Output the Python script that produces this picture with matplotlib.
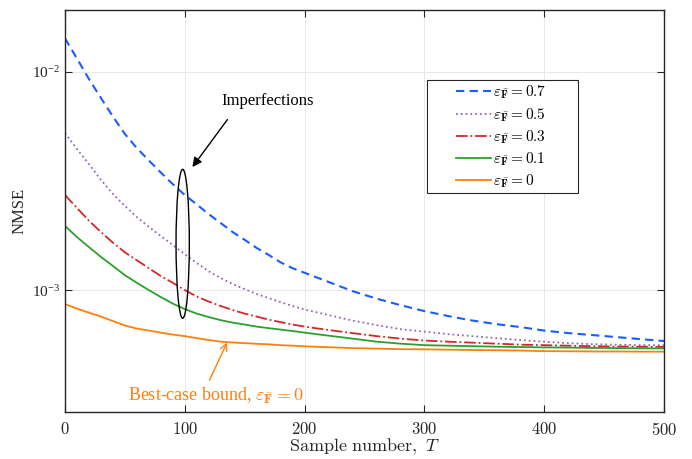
import matplotlib
matplotlib.use("Agg")
import matplotlib.pyplot as plt
import matplotlib.patches as pat
from matplotlib.ticker import NullLocator, FixedLocator, FixedFormatter
import numpy as np

plt.rcParams['font.family'] = ['Liberation Serif', 'DejaVu Serif']
plt.rcParams['mathtext.fontset'] = 'cm'

# sample numbers at which the curves were read
T = list(range(0, 201, 10)) + list(range(220, 501, 20))

nmse_07 = [1.428e-2, 1.153e-2, 9.29e-3, 7.60e-3, 6.25e-3, 5.20e-3, 4.48e-3, 3.93e-3, 3.46e-3,
           3.06e-3, 2.73e-3, 2.47e-3, 2.23e-3, 2.03e-3, 1.845e-3, 1.70e-3, 1.56e-3, 1.45e-3,
           1.34e-3, 1.26e-3, 1.20e-3,
           1.09e-3, 9.89e-4, 9.14e-4, 8.53e-4, 8.01e-4, 7.60e-4, 7.25e-4, 6.98e-4, 6.77e-4,
           6.52e-4, 6.35e-4, 6.22e-4, 6.09e-4, 5.96e-4, 5.84e-4]
nmse_05 = [5.25e-3, 4.44e-3, 3.78e-3, 3.20e-3, 2.76e-3, 2.43e-3, 2.16e-3, 1.95e-3, 1.77e-3,
           1.61e-3, 1.46e-3, 1.33e-3, 1.22e-3, 1.135e-3, 1.065e-3, 1.01e-3, 9.59e-4, 9.19e-4,
           8.81e-4, 8.45e-4, 8.14e-4,
           7.68e-4, 7.25e-4, 6.91e-4, 6.62e-4, 6.45e-4, 6.28e-4, 6.15e-4, 6.02e-4, 5.90e-4,
           5.80e-4, 5.71e-4, 5.65e-4, 5.62e-4, 5.59e-4, 5.59e-4]
nmse_03 = [2.73e-3, 2.38e-3, 2.08e-3, 1.845e-3, 1.65e-3, 1.49e-3, 1.37e-3, 1.26e-3, 1.16e-3,
           1.08e-3, 1.00e-3, 9.34e-4, 8.86e-4, 8.45e-4, 8.10e-4, 7.80e-4, 7.56e-4, 7.32e-4,
           7.13e-4, 6.95e-4, 6.80e-4,
           6.56e-4, 6.35e-4, 6.15e-4, 5.99e-4, 5.87e-4, 5.80e-4, 5.74e-4, 5.68e-4, 5.62e-4,
           5.59e-4, 5.56e-4, 5.53e-4, 5.51e-4, 5.50e-4, 5.49e-4]
nmse_01 = [1.97e-3, 1.75e-3, 1.575e-3, 1.42e-3, 1.29e-3, 1.17e-3, 1.08e-3, 1.00e-3, 9.29e-4,
           8.67e-4, 8.18e-4, 7.80e-4, 7.52e-4, 7.28e-4, 7.09e-4, 6.95e-4, 6.80e-4, 6.69e-4,
           6.59e-4, 6.49e-4, 6.38e-4,
           6.18e-4, 5.99e-4, 5.80e-4, 5.68e-4, 5.59e-4, 5.56e-4, 5.53e-4, 5.50e-4, 5.48e-4,
           5.46e-4, 5.45e-4, 5.43e-4, 5.42e-4, 5.41e-4, 5.40e-4]
nmse_00 = [8.63e-4, 8.22e-4, 7.88e-4, 7.56e-4, 7.21e-4, 6.88e-4, 6.66e-4, 6.52e-4, 6.38e-4,
           6.25e-4, 6.15e-4, 6.02e-4, 5.90e-4, 5.80e-4, 5.75e-4, 5.71e-4, 5.67e-4, 5.64e-4,
           5.59e-4, 5.56e-4, 5.52e-4,
           5.47e-4, 5.42e-4, 5.39e-4, 5.36e-4, 5.35e-4, 5.33e-4, 5.31e-4, 5.30e-4, 5.28e-4,
           5.25e-4, 5.24e-4, 5.23e-4, 5.23e-4, 5.22e-4, 5.22e-4]

eps = r"\varepsilon_{\bar{\mathbf{F}}}"
labels = [f"${eps} = 0.7$", f"${eps} = 0.5$", f"${eps} = 0.3$", f"${eps} = 0.1$", f"${eps} = 0$"]
xticks = [0, 100, 200, 300, 400, 500]

fig = plt.figure(figsize=(6.92, 4.59), dpi=100)
ax = fig.add_axes([0.0939, 0.1024, 0.8656, 0.8758])

ax.plot(T, nmse_07, color="#1a5cff", lw=1.5, dashes=(4, 2.5), label=labels[0])
ax.plot(T, nmse_05, color="#9467bd", lw=1.3, ls=":", label=labels[1])
ax.plot(T, nmse_03, color="#d62728", lw=1.3, ls="-.", label=labels[2])
ax.plot(T, nmse_01, color="#2ca02c", lw=1.3, ls="-", label=labels[3])
ax.plot(T, nmse_00, color="#ff7f0e", lw=1.3, ls="-", label=labels[4])

ax.set_yscale("log")
ax.set_xlim(0, 500)
ax.set_ylim(2.76e-4, 1.925e-2)
ax.xaxis.set_major_locator(FixedLocator(xticks))
ax.xaxis.set_major_formatter(FixedFormatter([f"${v}$" for v in xticks]))
ax.yaxis.set_major_locator(FixedLocator([1e-3, 1e-2]))
ax.yaxis.set_minor_locator(NullLocator())
ax.grid(True, color="#e8e8e8", lw=0.7)
ax.set_axisbelow(True)
ax.tick_params(direction="in", length=5, width=0.8, top=True, right=True,
               labelsize=11, labelcolor="#262626", color="#262626")
ax.tick_params(axis="x", pad=7, labelsize=12)
for s in ax.spines.values():
    s.set_linewidth(1.0)
    s.set_color("#262626")

ax.set_xlabel(r"$\mathrm{Sample\ number,}\ T$", fontsize=13, color="#262626", labelpad=-1)
ax.set_ylabel("NMSE", fontsize=12, color="#262626", labelpad=3)

# legend with MATLAB-like box
box = pat.Rectangle((0.6043, 0.5447), 0.2521, 0.2811, transform=ax.transAxes,
                    fc="white", ec="#262626", lw=0.8, zorder=4)
ax.add_patch(box)
leg = ax.legend(loc="upper left", bbox_to_anchor=(0.635, 0.843), frameon=False,
                fontsize=11, handlelength=2.3, handletextpad=0.1, labelspacing=0.3,
                borderpad=0.2)
leg.set_zorder(5)

# imperfections marker
ell = pat.Ellipse((0.1965, 0.4184), 0.0222, 0.3706, transform=ax.transAxes,
                  fc="none", ec="black", lw=1.0, zorder=3)
ax.add_patch(ell)
ax.annotate("", xy=(105, 3.58e-3), xytext=(137, 6.2e-3),
            arrowprops=dict(arrowstyle="-|>", color="black", lw=1.0, mutation_scale=14))
ax.text(169, 7.36e-3, "Imperfections", fontsize=12, ha="center", va="center")

ax.annotate("", xy=(136.3, 5.9e-4), xytext=(119.6, 3.76e-4),
            arrowprops=dict(arrowstyle="->", color="#ff7f0e", lw=1.0, mutation_scale=12))
ax.text(126, 3.27e-4, f"Best-case bound, ${eps} = 0$",
        fontsize=13, color="#ff7f0e", ha="center", va="center")

fig.savefig("out.png", dpi=100)
